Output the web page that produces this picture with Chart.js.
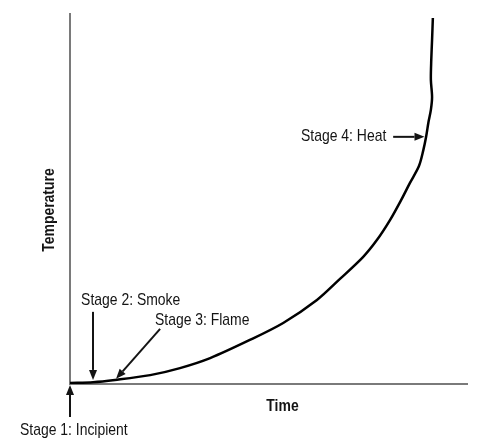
<!DOCTYPE html>
<html>
<head>
<meta charset="utf-8">
<script src="https://cdn.jsdelivr.net/npm/chart.js@4.4.1/dist/chart.umd.min.js"></script>
<style>
  html, body { margin: 0; padding: 0; background: #ffffff; }
  #wrap { width: 477px; height: 446px; }
</style>
</head>
<body>
<div id="wrap"><canvas id="c" width="477" height="446"></canvas></div>
<script>
// ---- data (time / temperature, arbitrary units 0..100) ----
const timeValues        = [0, 5.8, 11.3, 20.2, 27.7, 35.3, 45.3, 53.7, 62.2, 68.0, 73.8, 77.3, 80.6, 83.4, 85.6, 87.9, 89.0, 89.7, 90.3, 90.9, 91.2, 90.9, 91.0, 91.2, 91.4];
const temperatureValues = [0.3, 0.5, 1.1, 2.4, 4.3, 7.0, 11.9, 16.5, 22.7, 28.4, 34.3, 38.9, 44.3, 49.7, 54.3, 58.9, 63.2, 66.8, 70.8, 74.1, 77.6, 82.2, 87.6, 93.0, 98.9];

const xAxisTitle = 'Time';
const yAxisTitle = 'Temperature';

// stage annotations (label anchor, arrow tail, arrow head) in data units
const stageLabels = ['Stage 1: Incipient', 'Stage 2: Smoke', 'Stage 3: Flame', 'Stage 4: Heat'];
const stageLabelX = [-12.6, 2.8, 21.4, 58.2];
const stageLabelY = [-12.4, 22.7, 17.3, 66.9];
const arrowFromX  = [0, 5.8, 22.7, 81.4];
const arrowFromY  = [-8.9, 19.5, 14.9, 66.8];
const arrowToX    = [0, 5.8, 11.6, 89.3];
const arrowToY    = [-0.3, 1.1, 1.4, 66.8];

// ---- font: prefer a real narrow face, else horizontally squeeze Liberation Sans ----
function hasFont(name) {
  const cv = document.createElement('canvas').getContext('2d');
  const s = 'Stage 1: Incipient WWmmii';
  let differs = 0;
  for (const fb of ['monospace', 'serif']) {
    cv.font = '72px ' + fb; const a = cv.measureText(s).width;
    cv.font = '72px "' + name + '", ' + fb; const b = cv.measureText(s).width;
    if (Math.abs(a - b) > 0.5) differs++;
  }
  return differs === 2;
}
const narrowFace = ['Liberation Sans Narrow', 'Arial Narrow', 'Nimbus Sans Narrow'].find(hasFont);
const FONT = narrowFace ? '"' + narrowFace + '", sans-serif' : '"Liberation Sans", Arial, sans-serif';
const SQUEEZE = narrowFace ? 1 : 0.82;

const points = timeValues.map((t, i) => ({ x: t, y: temperatureValues[i] }));

function squeezedText(ctx, text, px, py, rot) {
  ctx.save();
  ctx.translate(px, py);
  if (rot) ctx.rotate(rot);
  ctx.scale(SQUEEZE, 1);
  ctx.fillText(text, 0, 0);
  ctx.restore();
}

const stagePlugin = {
  id: 'stages',
  afterDraw(chart) {
    const { ctx, chartArea: ca, scales: { x, y } } = chart;
    ctx.save();
    ctx.fillStyle = '#141414';
    ctx.strokeStyle = '#141414';
    ctx.textBaseline = 'middle';

    // axis titles
    ctx.font = 'bold 17px ' + FONT;
    ctx.textAlign = 'center';
    squeezedText(ctx, xAxisTitle, (ca.left + ca.right) / 2 + 14, ca.bottom + 22, 0);
    squeezedText(ctx, yAxisTitle, ca.left - 21, (ca.top + ca.bottom) / 2 + 11, -Math.PI / 2);

    // stage labels and arrows
    ctx.font = '17px ' + FONT;
    ctx.textAlign = 'left';
    stageLabels.forEach((lab, i) => {
      squeezedText(ctx, lab, x.getPixelForValue(stageLabelX[i]), y.getPixelForValue(stageLabelY[i]), 0);
      const x1 = x.getPixelForValue(arrowFromX[i]), y1 = y.getPixelForValue(arrowFromY[i]);
      const x2 = x.getPixelForValue(arrowToX[i]),   y2 = y.getPixelForValue(arrowToY[i]);
      const ang = Math.atan2(y2 - y1, x2 - x1);
      const hl = 10, hw = 4;
      const bx = x2 - hl * Math.cos(ang), by = y2 - hl * Math.sin(ang);
      ctx.lineWidth = 2;
      ctx.beginPath();
      ctx.moveTo(x1, y1);
      ctx.lineTo(bx, by);
      ctx.stroke();
      ctx.beginPath();
      ctx.moveTo(x2, y2);
      ctx.lineTo(bx + hw * Math.sin(ang), by - hw * Math.cos(ang));
      ctx.lineTo(bx - hw * Math.sin(ang), by + hw * Math.cos(ang));
      ctx.closePath();
      ctx.fill();
    });
    ctx.restore();
  }
};

new Chart(document.getElementById('c'), {
  type: 'scatter',
  data: {
    datasets: [{
      data: points,
      showLine: true,
      borderColor: '#000000',
      borderWidth: 2.5,
      pointRadius: 0,
      tension: 0.3,
      fill: false
    }]
  },
  options: {
    responsive: false,
    animation: false,
    layout: { padding: { left: 0, right: 10, top: 14, bottom: 0 } },
    plugins: { legend: { display: false }, tooltip: { enabled: false } },
    scales: {
      x: {
        type: 'linear', min: 0, max: 100,
        grid: { display: false, drawTicks: false },
        border: { display: true, color: '#7a7a7a', width: 2 },
        ticks: { display: false },
        title: { display: false, text: xAxisTitle },
        afterFit(s) { s.height = 62; }
      },
      y: {
        type: 'linear', min: 0, max: 100,
        grid: { display: false, drawTicks: false },
        border: { display: true, color: '#7a7a7a', width: 2 },
        ticks: { display: false },
        title: { display: false, text: yAxisTitle },
        afterFit(s) { s.width = 70; }
      }
    }
  },
  plugins: [stagePlugin]
});
</script>
</body>
</html>
